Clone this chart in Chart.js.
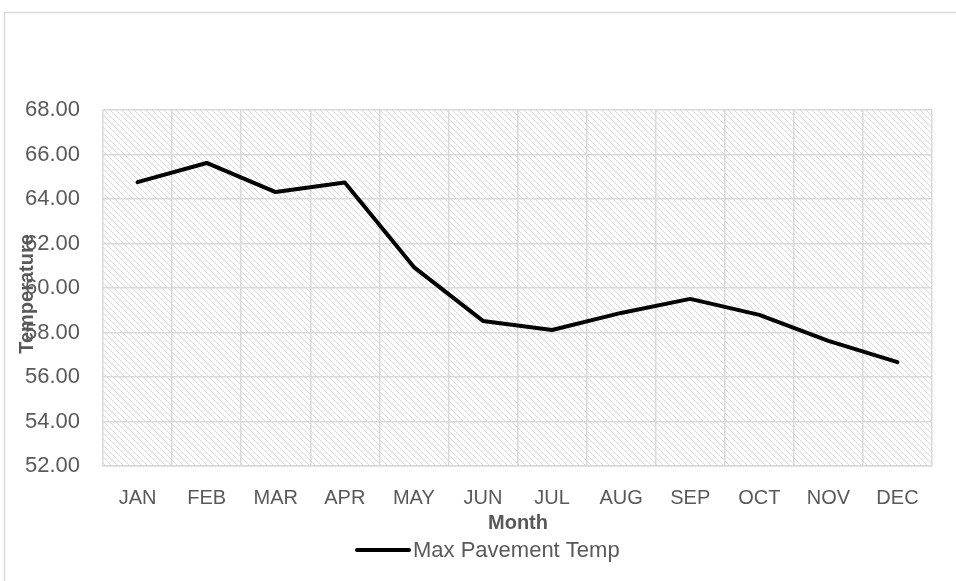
<!DOCTYPE html>
<html>
<head>
<meta charset="utf-8">
<script src="https://cdn.jsdelivr.net/npm/chart.js@4.4.1/dist/chart.umd.min.js"></script>
<style>
    html, body { margin: 0; padding: 0; background: #ffffff; }
    #wrap { position: relative; width: 956px; height: 581px; }
</style>
</head>
<body>
<div id="wrap"><canvas id="tempChart" width="956" height="581"></canvas></div>
<script>
    const months = ['JAN', 'FEB', 'MAR', 'APR', 'MAY', 'JUN', 'JUL', 'AUG', 'SEP', 'OCT', 'NOV', 'DEC'];
    const maxPavementTemp = [64.76, 65.62, 64.31, 64.74, 60.94, 58.52, 58.11, 58.88, 59.51, 58.79, 57.62, 56.67];
    const seriesLabel = 'Max Pavement Temp';
    const xTitle = 'Month';
    const yTitle = 'Temperature';

    const TEXT = '#595959';
    const GRID = '#d9d9d9';
    const FONT = '"Liberation Sans", Arial, sans-serif';

    function hatchPattern(ctx) {
        const tile = document.createElement('canvas');
        tile.width = 6;
        tile.height = 6;
        const t = tile.getContext('2d');
        t.fillStyle = '#ffffff';
        t.fillRect(0, 0, 6, 6);
        t.strokeStyle = '#dcdcdc';
        t.lineWidth = 1;
        t.beginPath();
        t.moveTo(-1, -1); t.lineTo(7, 7);
        t.moveTo(-1, 5); t.lineTo(1, 7);
        t.moveTo(5, -1); t.lineTo(7, 1);
        t.stroke();
        return ctx.createPattern(tile, 'repeat');
    }

    // frame, hatch background, axis titles and legend
    const decorations = {
        id: 'decorations',
        beforeDraw(chart) {
            const { ctx, chartArea: a } = chart;
            ctx.save();
            ctx.strokeStyle = '#d9d9d9';
            ctx.lineWidth = 1.5;
            ctx.beginPath();
            ctx.moveTo(4.5, 600);
            ctx.lineTo(4.5, 12.5);
            ctx.lineTo(960, 12.5);
            ctx.stroke();
            ctx.fillStyle = hatchPattern(ctx);
            ctx.fillRect(a.left, a.top, a.right - a.left, a.bottom - a.top);
            ctx.restore();
        },
        afterDraw(chart) {
            const { ctx } = chart;
            ctx.save();
            ctx.fillStyle = TEXT;
            ctx.textAlign = 'center';
            ctx.textBaseline = 'middle';
            ctx.font = 'bold 20px ' + FONT;
            ctx.fillText(xTitle, 518, 523);

            ctx.translate(27, 294);
            ctx.rotate(-Math.PI / 2);
            ctx.fillText(yTitle, 0, 0);
            ctx.restore();

            ctx.save();
            ctx.strokeStyle = '#000000';
            ctx.lineWidth = 4;
            ctx.lineCap = 'round';
            ctx.beginPath();
            ctx.moveTo(357, 550);
            ctx.lineTo(409, 550);
            ctx.stroke();
            ctx.fillStyle = TEXT;
            ctx.font = '22px ' + FONT;
            ctx.textAlign = 'left';
            ctx.textBaseline = 'middle';
            ctx.fillText(seriesLabel, 413, 551);
            ctx.restore();
        },
    };

    new Chart(document.getElementById('tempChart'), {
        type: 'line',
        data: {
            labels: months,
            datasets: [
                {
                    label: seriesLabel,
                    data: maxPavementTemp,
                    borderColor: '#000000',
                    borderWidth: 4,
                    borderJoinStyle: 'round',
                    borderCapStyle: 'round',
                    pointRadius: 0,
                    tension: 0,
                    fill: false,
                },
            ],
        },
        options: {
            responsive: false,
            animation: false,
            layout: {
                padding: { left: 0, top: 110, right: 24, bottom: 0 },
            },
            plugins: {
                legend: { display: false },
                tooltip: { enabled: false },
            },
            scales: {
                x: {
                    offset: true,
                    grid: { color: GRID, lineWidth: 1.5, offset: true, drawTicks: false },
                    border: { color: GRID, width: 1.5 },
                    ticks: {
                        color: TEXT,
                        padding: 20,
                        font: { family: FONT, size: 20 },
                        maxRotation: 0,
                    },
                    afterFit(scale) { scale.height = 115; },
                },
                y: {
                    min: 52,
                    max: 68,
                    grid: { color: GRID, lineWidth: 1.5, drawTicks: false },
                    border: { display: false },
                    ticks: {
                        stepSize: 2,
                        color: TEXT,
                        padding: 23,
                        font: { family: FONT, size: 22 },
                        callback: value => value.toFixed(2),
                    },
                    afterFit(scale) { scale.width = 103; },
                },
            },
        },
        plugins: [decorations],
    });
</script>
</body>
</html>
